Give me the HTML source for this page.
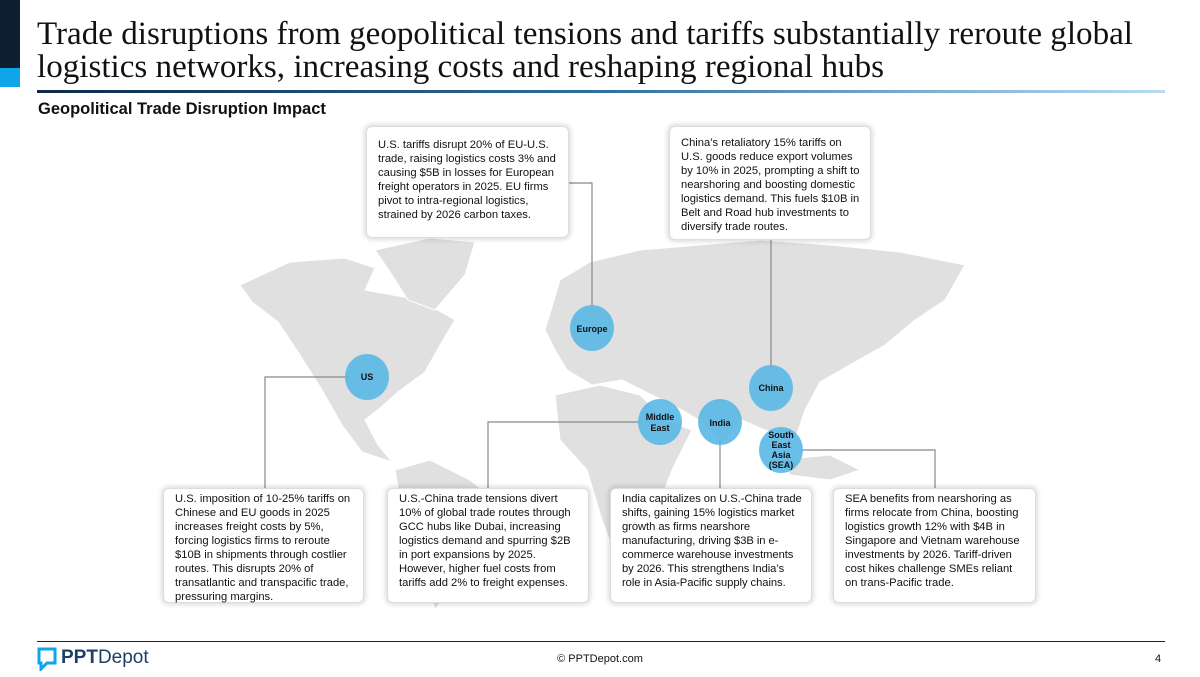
<!DOCTYPE html>
<html><head><meta charset="utf-8"><style>
body{margin:0;width:1200px;height:677px;position:relative;background:#fff;overflow:hidden;font-family:"Liberation Sans",sans-serif}
.abs{position:absolute}
.box{position:absolute;background:#fff;border:1px solid #ddd;border-radius:6px;box-shadow:0 0 5px 2px rgba(0,0,0,0.13);font-size:11.2px;line-height:14px;color:#111;padding:3px 10px 0 11px;box-sizing:border-box}
.top{padding-top:17px}
.title{left:37px;top:18px;font-family:"Liberation Serif",serif;font-size:33.1px;line-height:33px;color:#111;white-space:nowrap}
</style></head><body>
<div class="abs" style="left:0;top:0;width:20px;height:68px;background:#0d1f30"></div>
<div class="abs" style="left:0;top:68px;width:20px;height:19px;background:#0ea5e9"></div>
<div class="abs title">Trade disruptions from geopolitical tensions and tariffs substantially reroute global<br>logistics networks, increasing costs and reshaping regional hubs</div>
<div class="abs" style="left:37px;top:90px;width:1128px;height:3px;background:linear-gradient(to right,#0d2a45,#2f6f9f 50%,#b9dcf2)"></div>
<div class="abs" style="left:38px;top:100px;font-size:16.5px;font-weight:bold;color:#111">Geopolitical Trade Disruption Impact</div>

<svg class="abs" style="left:0;top:0" width="1200" height="677">
<g fill="#e0e0e0" stroke="#fff" stroke-width="1">
<path d="M240,285 L290,262 L345,258 L375,268 L365,290 L420,300 L455,320 L440,345 L425,372 L398,392 L380,408 L365,420 L378,445 L392,462 L362,452 L342,425 L322,390 L300,355 L278,322 L252,302 Z"/>
<path d="M375,250 L430,238 L475,242 L465,275 L435,310 L408,300 L392,275 Z"/>
<path d="M395,470 L430,460 L470,480 L495,500 L475,540 L455,580 L435,610 L422,560 L402,510 Z"/>
<path d="M545,330 L560,280 L590,262 L640,250 L700,245 L760,240 L830,245 L900,252 L965,265 L945,300 L915,320 L885,345 L855,362 L820,382 L805,410 L795,440 L765,430 L742,420 L722,445 L702,422 L682,410 L652,395 L622,380 L592,385 L567,370 L555,350 Z"/>
<path d="M555,395 L600,385 L640,395 L665,420 L692,430 L672,470 L657,510 L642,545 L617,560 L602,520 L587,470 L560,440 Z"/>
<path d="M780,460 L830,455 L860,470 L830,480 L790,475 Z"/>
<path d="M840,500 L890,490 L935,505 L940,545 L900,560 L860,550 L835,530 Z"/>
</g>
<g stroke="#888" stroke-width="1.2" fill="none">
<polyline points="569,183 592,183 592,310"/>
<polyline points="771,240 771,370"/>
<polyline points="350,377 265,377 265,488"/>
<polyline points="640,422 488,422 488,488"/>
<polyline points="720,440 720,488"/>
<polyline points="800,450 935,450 935,488"/>
</g>
<g fill="#5ab8e6" fill-opacity="0.9">
<ellipse cx="367" cy="377" rx="22" ry="23"/>
<ellipse cx="592" cy="328" rx="22" ry="23"/>
<ellipse cx="771" cy="388" rx="22" ry="23"/>
<ellipse cx="660" cy="422" rx="22" ry="23"/>
<ellipse cx="720" cy="422" rx="22" ry="23"/>
<ellipse cx="781" cy="450" rx="22" ry="23"/>
</g>
<g fill="#111" font-family="Liberation Sans, sans-serif" font-size="9" font-weight="bold" text-anchor="middle">
<text x="367" y="380">US</text>
<text x="592" y="332">Europe</text>
<text x="771" y="391">China</text>
<text x="660" y="420">Middle</text><text x="660" y="431">East</text>
<text x="720" y="426">India</text>
<text x="781" y="438">South</text><text x="781" y="448">East</text><text x="781" y="458">Asia</text><text x="781" y="468">(SEA)</text>
</g>
</svg>

<div class="box top" style="left:366px;top:126px;width:203px;height:112px;padding-top:11px">U.S. tariffs disrupt 20% of EU-U.S. trade, raising logistics costs 3% and causing $5B in losses for European freight operators in 2025. EU firms pivot to intra-regional logistics, strained by 2026 carbon taxes.</div>
<div class="box top" style="left:669px;top:126px;width:202px;height:114px;padding-top:9px">China’s retaliatory 15% tariffs on U.S. goods reduce export volumes by 10% in 2025, prompting a shift to nearshoring and boosting domestic logistics demand. This fuels $10B in Belt and Road hub investments to diversify trade routes.</div>
<div class="box" style="left:163px;top:488px;width:201px;height:115px">U.S. imposition of 10-25% tariffs on Chinese and EU goods in 2025 increases freight costs by 5%, forcing logistics firms to reroute $10B in shipments through costlier routes. This disrupts 20% of transatlantic and transpacific trade, pressuring margins.</div>
<div class="box" style="left:387px;top:488px;width:202px;height:115px">U.S.-China trade tensions divert 10% of global trade routes through GCC hubs like Dubai, increasing logistics demand and spurring $2B in port expansions by 2025. However, higher fuel costs from tariffs add 2% to freight expenses.</div>
<div class="box" style="left:610px;top:488px;width:202px;height:115px;padding-right:6px;letter-spacing:-0.05px">India capitalizes on U.S.-China trade shifts, gaining 15% logistics market growth as firms nearshore manufacturing, driving $3B in e-commerce warehouse investments by 2026. This strengthens India’s role in Asia-Pacific supply chains.</div>
<div class="box" style="left:833px;top:488px;width:203px;height:115px">SEA benefits from nearshoring as firms relocate from China, boosting logistics growth 12% with $4B in Singapore and Vietnam warehouse investments by 2026. Tariff-driven cost hikes challenge SMEs reliant on trans-Pacific trade.</div>

<div class="abs" style="left:37px;top:641px;width:1128px;height:1px;background:#222"></div>
<svg class="abs" style="left:37px;top:647px" width="20" height="24"><path d="M2,2 H18 V16 H10 L4,22 V16 H2 Z" fill="none" stroke="#0ea5e9" stroke-width="3"/></svg>
<div class="abs" style="left:61px;top:647px;font-size:19px;color:#1d3f66"><b>PPT</b>Depot</div>
<div class="abs" style="left:0;width:1200px;text-align:center;top:653px;font-size:11px;color:#111">© PPTDepot.com</div>
<div class="abs" style="left:1155px;top:653px;font-size:11px;color:#111">4</div>
</body></html>
